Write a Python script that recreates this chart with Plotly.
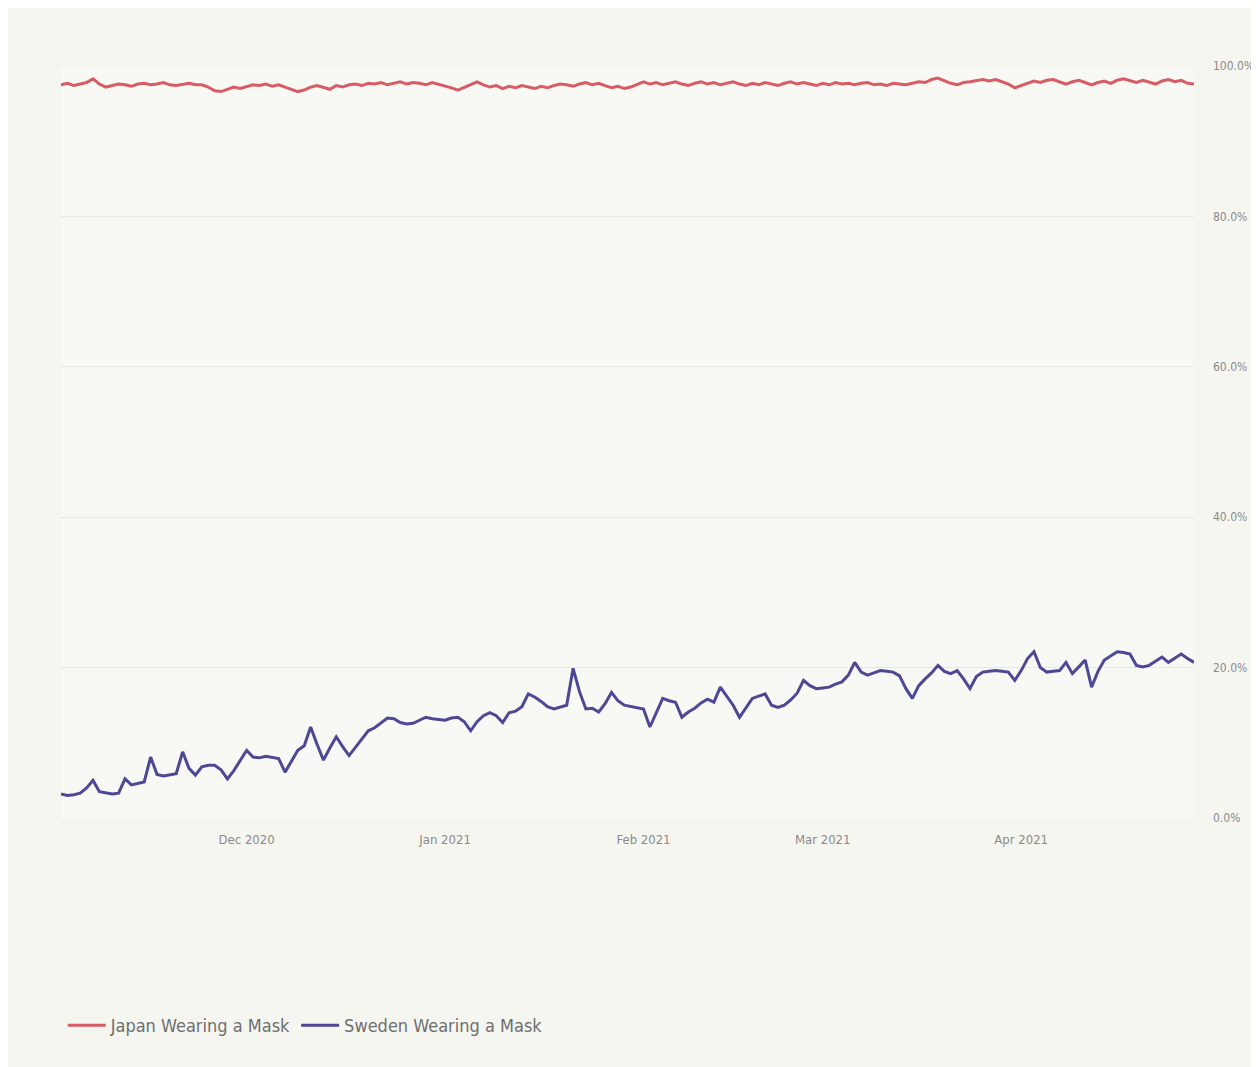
import pandas as pd
import plotly.graph_objects as go

start_date = "2020-11-02"
end_date = "2021-04-28"
dates = pd.date_range(start_date, end_date, freq="D")

japan_pct = [
    97.5, 97.7, 97.4, 97.6, 97.8, 98.3, 97.6, 97.2, 97.4, 97.6,
    97.5, 97.3, 97.6, 97.7, 97.5, 97.6, 97.8, 97.5, 97.4, 97.6,
    97.7, 97.5, 97.5, 97.2, 96.7, 96.6, 96.9, 97.2, 97.0, 97.3,
    97.5, 97.4, 97.6, 97.3, 97.5, 97.2, 96.9, 96.6, 96.8, 97.2,
    97.4, 97.1, 96.9, 97.4, 97.2, 97.5, 97.6, 97.4, 97.7, 97.6,
    97.8, 97.5, 97.7, 97.9, 97.6, 97.8, 97.7, 97.5, 97.8, 97.6,
    97.4, 97.1, 96.8, 97.2, 97.6, 97.9, 97.5, 97.2, 97.4, 97.0,
    97.3, 97.1, 97.4, 97.2, 97.0, 97.3, 97.1, 97.4, 97.6, 97.5,
    97.3, 97.6, 97.8, 97.5, 97.7, 97.4, 97.1, 97.3, 97.0, 97.2,
    97.6, 97.9, 97.6, 97.8, 97.5, 97.7, 97.9, 97.6, 97.4, 97.7,
    97.9, 97.6, 97.8, 97.5, 97.7, 97.9, 97.6, 97.4, 97.7, 97.5,
    97.8, 97.6, 97.4, 97.7, 97.9, 97.6, 97.8, 97.6, 97.4, 97.7,
    97.5, 97.8, 97.6, 97.7, 97.5, 97.7, 97.8, 97.5, 97.6, 97.4,
    97.7, 97.6, 97.5, 97.7, 97.9, 97.8, 98.2, 98.4, 98.0, 97.7,
    97.5, 97.8, 97.9, 98.1, 98.2, 98.0, 98.2, 97.9, 97.6, 97.1,
    97.4, 97.7, 98.0, 97.8, 98.1, 98.2, 97.9, 97.6, 97.9, 98.1,
    97.8, 97.5, 97.8, 98.0, 97.7, 98.1, 98.3, 98.0, 97.8, 98.1,
    97.9, 97.6, 98.0, 98.2, 97.9, 98.1, 97.7, 97.6,
]

sweden_pct = [
    3.2, 3.0, 3.1, 3.3, 4.0, 5.0, 3.5, 3.3, 3.2, 3.3,
    5.2, 4.4, 4.6, 4.8, 8.1, 5.8, 5.6, 5.8, 5.9, 8.8,
    6.6, 5.7, 6.8, 7.0, 7.0, 6.4, 5.2, 6.3, 7.7, 9.0,
    8.1, 8.0, 8.2, 8.0, 7.9, 6.1, 7.5, 9.0, 9.6, 12.1,
    9.8, 7.7, 9.3, 10.8, 9.5, 8.3, 9.4, 10.5, 11.6, 12.0,
    12.6, 13.3, 13.2, 12.7, 12.5, 12.6, 13.0, 13.4, 13.2, 13.1,
    13.0, 13.3, 13.4, 12.8, 11.6, 12.8, 13.6, 14.0, 13.6, 12.7,
    14.0, 14.2, 14.8, 16.5, 16.1, 15.5, 14.8, 14.5, 14.8, 15.0,
    19.9, 16.8, 14.5, 14.6, 14.1, 15.2, 16.7, 15.6, 15.0, 14.8,
    14.6, 14.5, 12.1, 14.0, 15.9, 15.6, 15.4, 13.4, 14.1, 14.6,
    15.3, 15.8, 15.4, 17.4, 16.2, 15.0, 13.4, 14.6, 15.9, 16.2,
    16.5, 15.0, 14.7, 15.0, 15.7, 16.6, 18.3, 17.6, 17.2, 17.3,
    17.4, 17.8, 18.1, 19.0, 20.7, 19.4, 19.0, 19.3, 19.6, 19.5,
    19.4, 18.9, 17.2, 15.9, 17.6, 18.5, 19.3, 20.3, 19.5, 19.2,
    19.6, 18.5, 17.2, 18.8, 19.4, 19.5, 19.6, 19.5, 19.4, 18.3,
    19.6, 21.2, 22.1, 20.0, 19.4, 19.5, 19.6, 20.7, 19.2, 20.1,
    21.0, 17.4, 19.5, 21.0, 21.5, 22.1, 22.0, 21.8, 20.3, 20.1,
    20.3, 20.8, 21.4, 20.7, 21.3, 21.8, 21.2, 20.7,
]

series_names = ["Japan Wearing a Mask", "Sweden Wearing a Mask"]
series_colors = ["#d95b63", "#4c4896"]
y_tick_values = [0, 0.2, 0.4, 0.6, 0.8, 1.0]

n = min(len(dates), len(japan_pct), len(sweden_pct))
x = dates[:n]

fig = go.Figure()
for name, color, vals in zip(series_names, series_colors, [japan_pct, sweden_pct]):
    fig.add_trace(go.Scatter(
        x=x, y=[v / 100 for v in vals[:n]], mode="lines", name=name,
        line=dict(color=color, width=3),
    ))

font_family = "DejaVu Sans Condensed, Liberation Sans Narrow, Roboto Condensed, DejaVu Sans, sans-serif"

fig.update_layout(
    width=1259, height=1067,
    paper_bgcolor="#f6f6f1",
    plot_bgcolor="#f8f8f5",
    margin=dict(l=53, r=73, t=58, b=257),
    font=dict(family=font_family, color="#8a8a8a", size=13),
    showlegend=True,
    legend=dict(
        orientation="h", x=0.0015, xanchor="left", y=-0.276, yanchor="middle",
        font=dict(size=18, color="#6e6e6e", family=font_family),
        bgcolor="rgba(0,0,0,0)", itemwidth=38, tracegroupgap=0,
    ),
    xaxis=dict(
        showgrid=False, zeroline=False, showline=False, ticks="",
        tickformat="%b %Y", dtick="M1", tick0="2020-12-01",
        tickfont=dict(size=13, color="#8a8a8a"),
        ticklabelstandoff=12,
    ),
    yaxis=dict(
        side="right", range=[0, 1.0], tickvals=y_tick_values,
        tickformat=".1%", showgrid=True, gridcolor="#e8e8e5", gridwidth=1,
        zeroline=False, showline=False, ticks="",
        tickfont=dict(size=12, color="#8a8a8a"),
        ticklabelstandoff=18,
    ),
)

fig.write_html("out.html")
